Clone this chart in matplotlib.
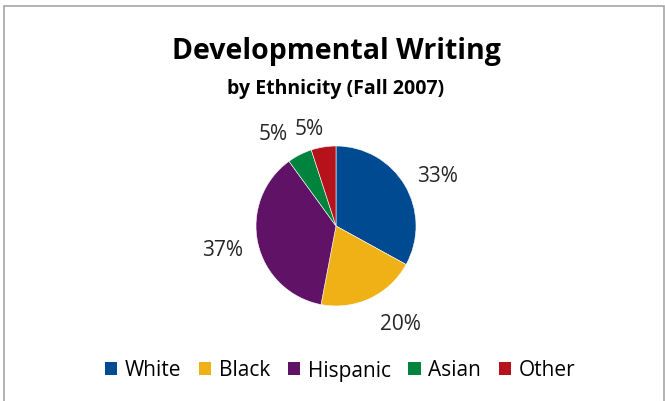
import matplotlib.pyplot as plt
from matplotlib.patches import Rectangle, Patch

plt.rcParams['font.family'] = ['Open Sans', 'DejaVu Sans']

groups = ['White', 'Black', 'Hispanic', 'Asian', 'Other']
shares = [33, 20, 37, 5, 5]
colors = ['#004a91', '#f0b116', '#5f1266', '#00843d', '#b5121b']
# where each percentage sits, in pie units (radius = 1)
label_xy = [(1.27, 0.62), (0.80, -1.23), (-1.42, -0.31), (-0.79, 1.15), (-0.33, 1.21)]

W, H = 665, 401
fig = plt.figure(figsize=(W / 100, H / 100), dpi=100)

# chart frame
fig.patches.append(Rectangle((4 / W, -0.1), 660 / W, 1.1 - 6 / H, transform=fig.transFigure,
                             fill=False, edgecolor='#a6a6a6', linewidth=1.2))

cx, cy, r = 336, 226, 80
side = 240
ax = fig.add_axes([(cx - side / 2) / W, 1 - (cy + side / 2) / H, side / W, side / H])
ax.pie(shares, colors=colors, startangle=90, counterclock=False,
       wedgeprops=dict(edgecolor='white', linewidth=0.4))
lim = side / 2 / r
ax.set_xlim(-lim, lim)
ax.set_ylim(-lim, lim)
ax.set_aspect('equal')
ax.axis('off')

for v, (x, y) in zip(shares, label_xy):
    ax.text(x, y, f'{v}%', ha='center', va='center', fontsize=15, color='#262626')

fig.text(cx / W, 1 - 51 / H, 'Developmental Writing', ha='center', va='center',
         fontsize=20.5, fontweight='bold')
fig.text(cx / W, 1 - 89 / H, 'by Ethnicity (Fall 2007)', ha='center', va='center',
         fontsize=14, fontweight='bold')

handles = [Patch(facecolor=c, label=g) for g, c in zip(groups, colors)]
leg = fig.legend(handles=handles, loc='center', bbox_to_anchor=(340 / W, 1 - 370 / H), ncol=5,
                 frameon=False, fontsize=15, handlelength=0.6, handleheight=0.6,
                 handletextpad=0.35, columnspacing=0.85)
# the descender in "Hispanic" lifts that entry; put it back on the common baseline
for t in leg.get_texts():
    if any(ch in t.get_text() for ch in 'gjpqy'):
        t.set_y(-1.5)

fig.savefig('out.png', dpi=100)
